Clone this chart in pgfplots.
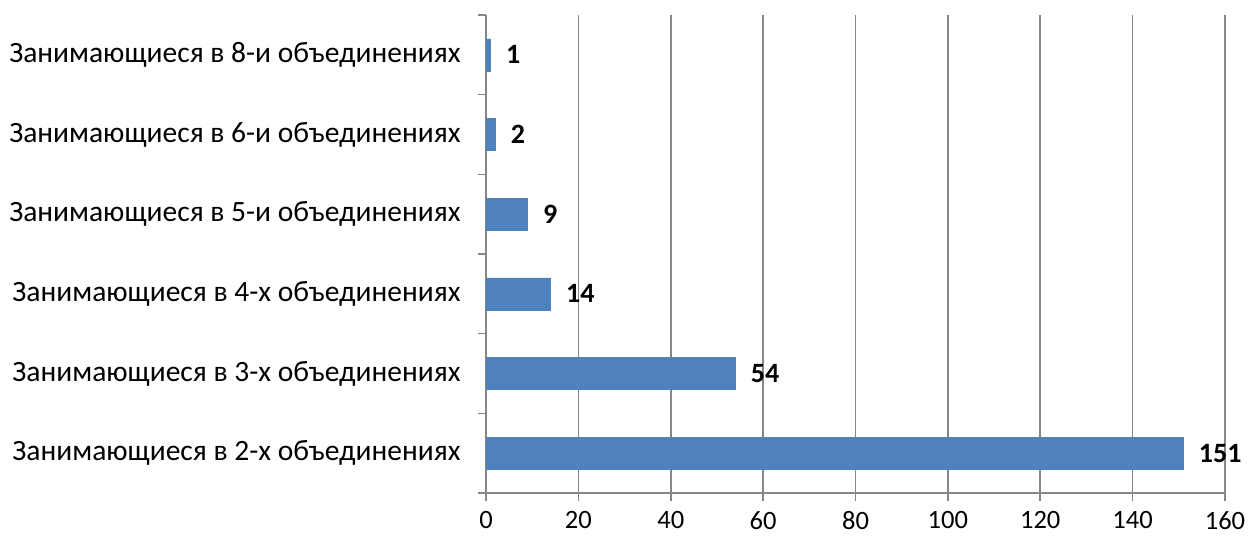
\documentclass[border=0pt]{standalone}
\usepackage{pgfplots}
\pgfplotsset{compat=1.18}
\usepackage{fontspec}
\setmainfont{Carlito}
\definecolor{barblue}{HTML}{4F81BD}
\definecolor{gridgray}{HTML}{868686}
\begin{document}
\begin{tikzpicture}[x=1pt,y=1pt]
\path[use as bounding box] (-486,-45) rectangle (766,493);
\begin{axis}[
  at={(0,0)}, anchor=south west,
  scale only axis, width=739pt, height=478pt,
  xbar, bar width=32pt,
  xmin=0, xmax=160, xtick={0,20,...,160},
  ymin=-0.5, ymax=5.5,
  ytick={0,...,5},
  yticklabels={Занимающиеся в 2-х объединениях,Занимающиеся в 3-х объединениях,Занимающиеся в 4-х объединениях,Занимающиеся в 5-и объединениях,Занимающиеся в 6-и объединениях,Занимающиеся в 8-и объединениях},
  minor ytick={-0.5,0.5,...,5.5},
  major y tick style={draw=none},
  tick align=outside, major tick length=8pt, minor tick length=8pt,
  axis x line*=bottom, axis y line*=left,
  axis line style={gridgray, line width=1.6pt, -},
  every tick/.style={gridgray, line width=1.6pt},
  xmajorgrids, grid style={gridgray, line width=1.6pt},
  yticklabel style={font=\fontsize{29.5}{34}\selectfont, xshift=-14pt},
  xticklabel style={font=\fontsize{26.5}{31}\selectfont, yshift=-7pt},
  /pgf/number format/assume math mode=true,
  nodes near coords,
  nodes near coords style={font=\fontsize{28}{33}\selectfont\bfseries, xshift=12pt},
  clip=false,
]
\addplot[fill=barblue, draw=barblue] coordinates {(151,0) (54,1) (14,2) (9,3) (2,4) (1,5)};
\end{axis}
\end{tikzpicture}
\end{document}
